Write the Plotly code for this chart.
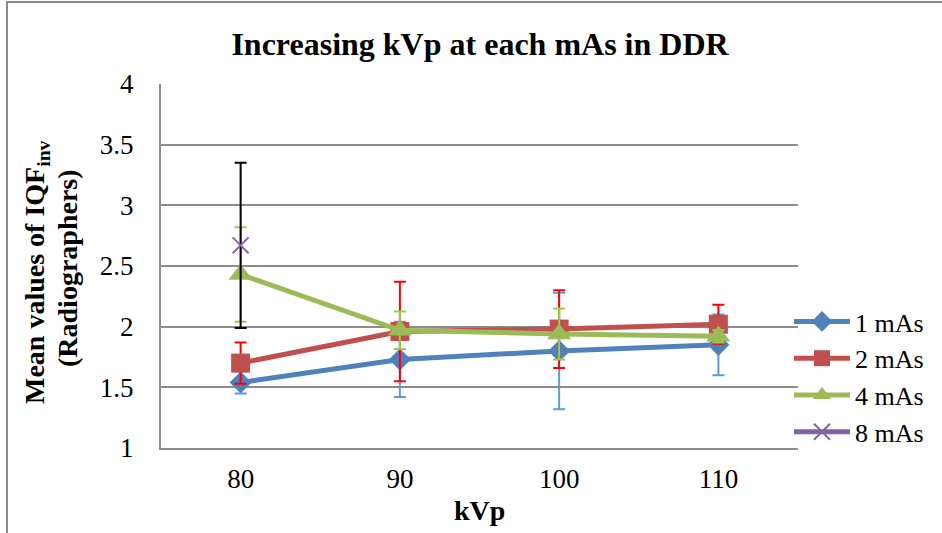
import plotly.graph_objects as go

kvp = [80, 90, 100, 110]
mas1 = [1.54, 1.73, 1.80, 1.85]
mas1_err = [0.09, 0.31, 0.48, 0.25]
mas2 = [1.70, 1.96, 1.98, 2.02]
mas2_err = [0.17, 0.41, 0.32, 0.16]
mas4 = [2.43, 1.97, 1.94, 1.92]
mas4_err = [0.39, 0.155, 0.21, 0.05]
kvp8 = [80]
mas8 = [2.67]
mas8_err = [0.68]
x_ticks = [80, 90, 100, 110]
y_ticks = [1, 1.5, 2, 2.5, 3, 3.5, 4]

FONT = "Liberation Serif, Times New Roman, serif"

L, R, T, B = 161, 144, 84, 85
PW, PH = 942 - L - R, 533 - T - B


def px(xp):
    return (xp - L) / PW


def py(yp):
    return (533 - B - yp) / PH


fig = go.Figure()


def add(x, y, err, name, color, ecolor, symbol, size, mline=None):
    marker = dict(symbol=symbol, size=size, color=color)
    if mline:
        marker["line"] = dict(color=color, width=mline)
    fig.add_trace(go.Scatter(
        x=x, y=y, name=name, mode="lines+markers",
        line=dict(color=color, width=5),
        marker=marker,
        error_y=dict(type="data", array=err, visible=True, color=ecolor,
                     thickness=2, width=6),
    ))


add(kvp, mas1, mas1_err, "1 mAs", "#4F81BD", "#5B9BD5", "diamond", 17)
add(kvp, mas2, mas2_err, "2 mAs", "#C0504D", "#FF0000", "square", 19)
add(kvp, mas4, mas4_err, "4 mAs", "#9BBB59", "#92D050", "triangle-up", 21)
add(kvp8, mas8, mas8_err, "8 mAs", "#8064A2", "#000000", "x-thin", 16, mline=2)

fig.update_layout(
    width=942, height=533,
    margin=dict(l=L, r=R, t=T, b=B, autoexpand=False),
    paper_bgcolor="white", plot_bgcolor="white",
    font=dict(family=FONT, size=27, color="black"),
    showlegend=True,
    legend=dict(x=px(789), y=py(298), xanchor="left", yanchor="top",
                font=dict(family=FONT, size=26, color="black"),
                bgcolor="rgba(0,0,0,0)", tracegroupgap=0, itemwidth=56),
    title=dict(text="<b>Increasing kVp at each mAs in DDR</b>",
               x=480 / 942, xref="container", xanchor="center",
               y=1 - 44 / 533, yref="container", yanchor="middle",
               font=dict(family=FONT, size=32, color="black")),
    xaxis=dict(range=[75, 115], tickmode="array", tickvals=x_ticks,
               showgrid=False, zeroline=False, showline=True,
               linecolor="#8C8C8C", linewidth=2, ticks="",
               ticklabelstandoff=6,
               tickfont=dict(family=FONT, size=27, color="black")),
    yaxis=dict(range=[1, 4], tickmode="array", tickvals=y_ticks,
               ticktext=["1", "1.5", "2", "2.5", "3", "3.5", "4"],
               showgrid=True, gridcolor="#8C8C8C", gridwidth=2,
               zeroline=False, showline=True, linecolor="#8C8C8C",
               linewidth=2, ticks="", ticklabelstandoff=20,
               tickfont=dict(family=FONT, size=27, color="black")),
    annotations=[
        dict(text="<b>kVp</b>", x=px(479), y=py(510), xref="paper", yref="paper",
             xanchor="center", yanchor="middle",
             showarrow=False, font=dict(family=FONT, size=28)),
        dict(text="<b>Mean values of IQF<sub>inv</sub></b>", x=px(36), y=py(272),
             xref="paper", yref="paper", xanchor="center", yanchor="middle",
             showarrow=False, textangle=-90,
             font=dict(family=FONT, size=28)),
        dict(text="<b>(Radiographers)</b>", x=px(67), y=py(268),
             xref="paper", yref="paper", xanchor="center", yanchor="middle",
             showarrow=False, textangle=-90,
             font=dict(family=FONT, size=28)),
    ],
)

fig.add_shape(type="rect", xref="paper", yref="paper",
              x0=px(7), x1=px(960), y0=py(560), y1=py(2),
              line=dict(color="#8C8C8C", width=2), fillcolor="rgba(0,0,0,0)",
              layer="below")

fig.write_html("out.html")
